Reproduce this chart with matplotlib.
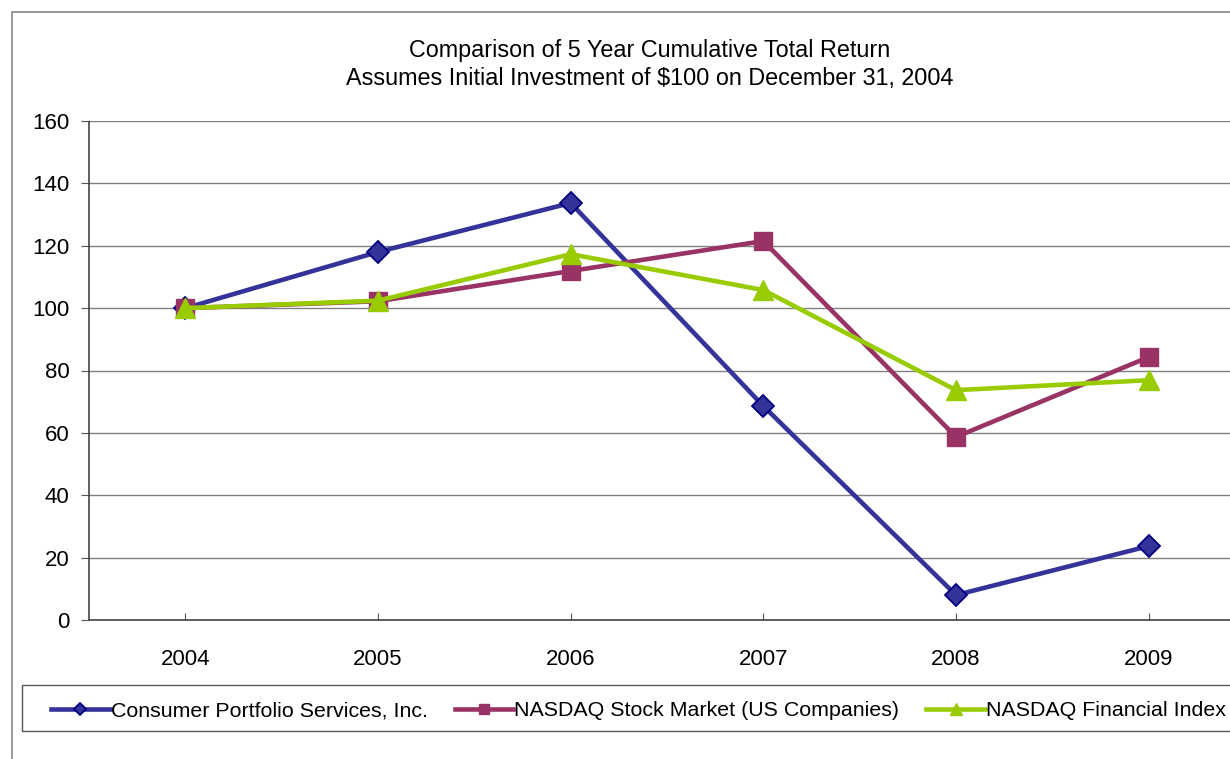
import matplotlib.pyplot as plt
from matplotlib.patches import Rectangle

years = ['2004', '2005', '2006', '2007', '2008', '2009']
cps = [100, 118, 133.7, 68.6, 8, 23.7]
nasdaq_us = [100, 102.2, 111.9, 121.5, 58.7, 84.3]
nasdaq_fin = [100, 102.4, 117.3, 105.8, 73.7, 76.9]

plt.rcParams['font.family'] = ['Liberation Sans', 'DejaVu Sans']

fig = plt.figure(figsize=(12.3, 7.59), dpi=100)
W, H = 1230, 759

# outer chart frame
fig.patches.append(Rectangle((12 / W, -0.1), 1.2, 1 - 12 / H + 0.1,
                             transform=fig.transFigure, fill=False,
                             edgecolor='#888888', linewidth=1.2))
# legend box (runs off the right edge like the reference)
fig.patches.append(Rectangle((22 / W, 1 - 731 / H), 1.2, 46 / H,
                             transform=fig.transFigure, fill=False,
                             edgecolor='#555555', linewidth=1))

ax = fig.add_axes([89 / W, 1 - 620 / H, 1156 / W, 499 / H])
x = list(range(len(years)))

ax.plot(x, cps, color='#333399', linewidth=3.3, marker='D', markersize=11.5,
        markerfacecolor='#333399', markeredgecolor='#000080', markeredgewidth=1.3,
        label='Consumer Portfolio Services, Inc.', zorder=3)
ax.plot(x, nasdaq_us, color='#993366', linewidth=3.3, marker='s', markersize=13.5,
        markerfacecolor='#993366', markeredgecolor='#993366',
        label='NASDAQ Stock Market (US Companies)', zorder=3)
ax.plot(x, nasdaq_fin, color='#99CC00', linewidth=3.3, marker='^', markersize=15,
        markerfacecolor='#99CC00', markeredgecolor='#99CC00',
        label='NASDAQ Financial Index', zorder=4)

ax.set_xlim(-0.5, 5.5)
ax.set_ylim(0, 160)
ax.set_yticks(range(0, 161, 20))
ax.set_xticks(x)
ax.set_xticklabels(years)
ax.tick_params(axis='y', direction='out', length=6, color='#555555', labelsize=16, pad=8)
ax.tick_params(axis='x', direction='in', length=5, color='#555555', labelsize=16, pad=21)
ax.yaxis.grid(True, color='#808080', linewidth=1)
ax.set_axisbelow(True)
for side in ['top', 'right']:
    ax.spines[side].set_visible(False)
for side in ['left', 'bottom']:
    ax.spines[side].set_color('#444444')
    ax.spines[side].set_linestyle((0, (3, 1)))
    ax.spines[side].set_linewidth(1.2)

fig.text(650 / W, 1 - 50 / H, 'Comparison of 5 Year Cumulative Total Return',
         ha='center', va='center', fontsize=16.8)
fig.text(650 / W, 1 - 78 / H, 'Assumes Initial Investment of $100 on December 31, 2004',
         ha='center', va='center', fontsize=16.8)

handles, labels = ax.get_legend_handles_labels()
leg = fig.legend(handles, labels, loc='center left', bbox_to_anchor=(51 / W, 1 - 711 / H),
                 ncol=3, fontsize=15.4, frameon=False, borderpad=0, borderaxespad=0,
                 handlelength=2.75, handletextpad=0.05, columnspacing=1.25, markerscale=0.55)

fig.savefig('out.png', dpi=100)
